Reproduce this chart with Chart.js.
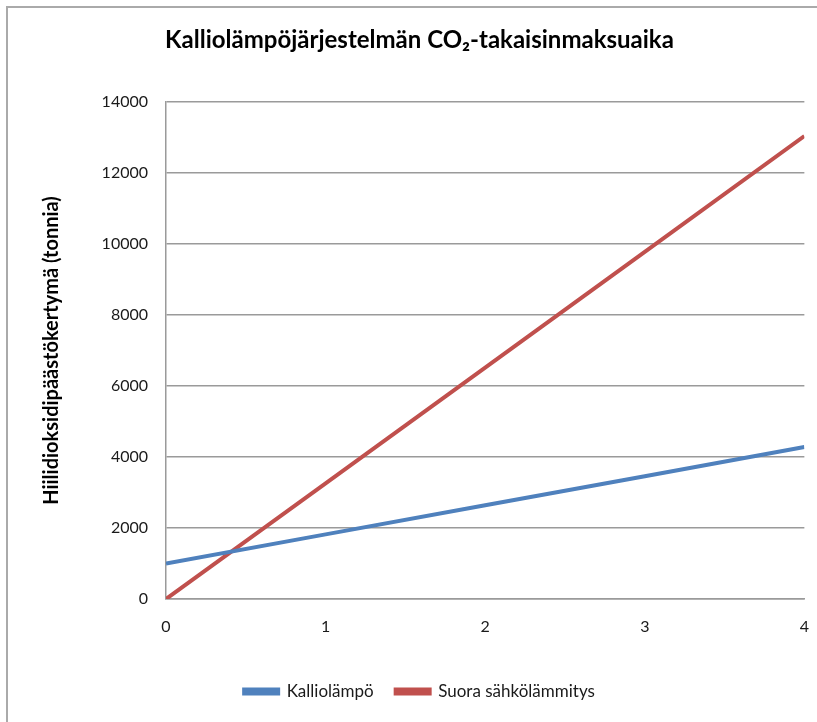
<!DOCTYPE html>
<html>
<head>
<meta charset="utf-8">
<script src="https://cdn.jsdelivr.net/npm/chart.js@4/dist/chart.umd.min.js"></script>
<style>
  html, body { margin: 0; padding: 0; background: #fff; }
  #wrap { position: relative; width: 817px; height: 722px; }
  #frame {
    position: absolute; left: 6px; top: 6px; right: 0; bottom: 0;
    border-left: 2px solid #aaa; border-top: 2px solid #aaa;
    pointer-events: none;
  }
</style>
</head>
<body>
<div id="wrap">
  <canvas id="chart" width="817" height="722"></canvas>
  <div id="frame"></div>
</div>
<script>
// Vuodet ja kertymät luettu kuvasta
const years = [0, 1, 2, 3, 4];
const kalliolampo = [1000, 1820, 2640, 3460, 4280];
const suoraSahko = [0, 3260, 6520, 9780, 13040];
const yTicks = [0, 2000, 4000, 6000, 8000, 10000, 12000, 14000];

const fontFamily = 'Lato, "Open Sans", sans-serif';
const gridColor = '#9a9a9a';
const textColor = '#1a1a1a';

function toPoints(values) {
    return years.map((x, i) => ({ x: x, y: values[i] }));
}

const ctx = document.getElementById('chart').getContext('2d');

new Chart(ctx, {
    type: 'line',
    data: {
        datasets: [
            {
                label: 'Kalliolämpö',
                data: toPoints(kalliolampo),
                borderColor: '#4F81BD',
                backgroundColor: '#4F81BD',
                borderWidth: 4,
                pointRadius: 0,
                tension: 0
            },
            {
                label: 'Suora sähkölämmitys',
                data: toPoints(suoraSahko),
                borderColor: '#C0504D',
                backgroundColor: '#C0504D',
                borderWidth: 4,
                pointRadius: 0,
                tension: 0
            }
        ]
    },
    options: {
        responsive: false,
        animation: false,
        layout: { padding: { left: 24, right: 2, top: 0, bottom: 12 } },
        plugins: {
            title: {
                display: true,
                text: 'Kalliolämpöjärjestelmän CO₂-takaisinmaksuaika',
                color: '#000',
                font: { family: fontFamily, size: 24, weight: 'bold' },
                padding: { top: 26, bottom: 47.2 }
            },
            legend: {
                position: 'bottom',
                labels: {
                    color: textColor,
                    font: { family: fontFamily, size: 17 },
                    boxWidth: 34,
                    boxHeight: 4,
                    padding: 22
                }
            },
            tooltip: { enabled: false }
        },
        scales: {
            x: {
                type: 'linear',
                min: 0,
                max: 4,
                ticks: {
                    stepSize: 1,
                    color: textColor,
                    padding: 8,
                    font: { family: fontFamily, size: 16 }
                },
                // tickLength vie nimikkeitä alemmas, viivoja ei piirretä
                grid: { display: false, drawTicks: true, tickLength: 10 },
                border: { display: true, color: gridColor, width: 1.5 },
                afterFit: scale => { scale.height = 62; }
            },
            y: {
                min: 0,
                max: 14000,
                afterBuildTicks: scale => {
                    scale.ticks = yTicks.map(v => ({ value: v }));
                },
                ticks: {
                    color: textColor,
                    padding: 18,
                    font: { family: fontFamily, size: 16 },
                    callback: value => String(value)
                },
                grid: { color: gridColor, lineWidth: 1.5, drawTicks: false },
                border: { display: true, color: gridColor, width: 1.5 },
                title: {
                    display: true,
                    text: 'Hiilidioksidipäästökertymä (tonnia)',
                    color: '#000',
                    font: { family: fontFamily, size: 20, weight: 'bold' },
                    padding: { top: 16, bottom: 0 }
                },
                afterFit: scale => { scale.width = 142; }
            }
        }
    }
});
</script>
</body>
</html>
